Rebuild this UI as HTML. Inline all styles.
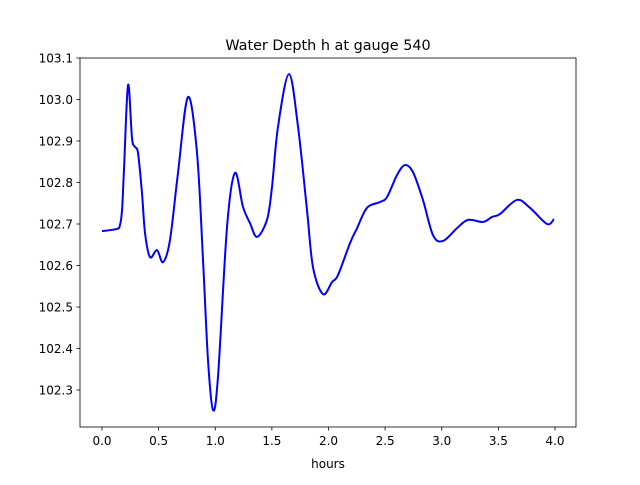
<!DOCTYPE html>
<html><head><meta charset="utf-8"><style>
body{margin:0;background:#fff}
svg text{font-family:"DejaVu Sans","Liberation Sans",sans-serif;fill:#000}
</style></head><body>
<svg width="640" height="480" xmlns="http://www.w3.org/2000/svg">
<rect width="640" height="480" fill="#fff"/>
<text x="328" y="50" font-size="14.4" text-anchor="middle">Water Depth h at gauge 540</text>
<g id="plot"></g>
<rect x="80" y="58" width="496" height="369" fill="none" stroke="#000" stroke-width="0.8"/>
<text x="328" y="468" font-size="12" text-anchor="middle">hours</text>
</svg>
<script>
const times=[0,0.132,0.159,0.177,0.194,0.23,0.265,0.291,0.318,0.353,0.38,0.424,0.486,0.539,0.6,0.671,0.759,0.839,0.892,0.936,0.98,1.024,1.104,1.174,1.245,1.307,1.369,1.457,1.501,1.554,1.651,1.731,1.81,1.863,1.951,2.031,2.084,2.19,2.252,2.34,2.455,2.517,2.605,2.675,2.746,2.834,2.923,3.011,3.135,3.232,3.364,3.444,3.514,3.664,3.779,3.929,3.991];
const depths=[102.683,102.688,102.698,102.734,102.83,103.035,102.907,102.886,102.871,102.775,102.678,102.62,102.637,102.608,102.661,102.823,103.006,102.871,102.613,102.372,102.252,102.331,102.693,102.823,102.741,102.702,102.669,102.71,102.789,102.934,103.061,102.934,102.734,102.596,102.531,102.56,102.577,102.654,102.69,102.739,102.753,102.765,102.818,102.842,102.825,102.758,102.673,102.659,102.69,102.71,102.705,102.717,102.724,102.758,102.739,102.7,102.712];
const xTicks=[0,0.5,1,1.5,2,2.5,3,3.5,4];
const yTicks=[102.3,102.4,102.5,102.6,102.7,102.8,102.9,103.0,103.1];
const ns="http://www.w3.org/2000/svg";
const X=t=>102+t*113.25;
const Y=v=>58+(103.1-v)*415;
const g=document.getElementById('plot');
function mk(tag,a){const e=document.createElementNS(ns,tag);for(const k in a)e.setAttribute(k,a[k]);g.appendChild(e);return e;}
xTicks.forEach(t=>{
  const l=mk('line',{x1:X(t),x2:X(t),y1:427,y2:430.5,stroke:'#000','stroke-width':0.8});
  
  
  const s=mk('text',{x:X(t),y:445,'font-size':12,'text-anchor':'middle'});
  s.textContent=t.toFixed(1);
  
  
});
yTicks.forEach(v=>{
  const l=mk('line',{x1:76.5,x2:80,y1:Y(v),y2:Y(v),stroke:'#000','stroke-width':0.8});
  
  
  const s=mk('text',{x:73,y:Y(v)+4.5,'font-size':12,'text-anchor':'end'});
  s.textContent=v.toFixed(1);
  
  
});
const P=times.map((t,i)=>[X(t),Y(depths[i])]);
let d='M'+P[0][0]+','+P[0][1];
for(let i=0;i<P.length-1;i++){
  const p0=P[Math.max(0,i-1)],p1=P[i],p2=P[i+1],p3=P[Math.min(P.length-1,i+2)];
  const c1=[p1[0]+(p2[0]-p0[0])/6,p1[1]+(p2[1]-p0[1])/6];
  const c2=[p2[0]-(p3[0]-p1[0])/6,p2[1]-(p3[1]-p1[1])/6];
  d+=' C'+c1[0].toFixed(2)+','+c1[1].toFixed(2)+' '+c2[0].toFixed(2)+','+c2[1].toFixed(2)+' '+p2[0].toFixed(2)+','+p2[1].toFixed(2);
}
const path=mk('path',{d:d,fill:'none',stroke:'#0000ff','stroke-width':2,'stroke-linejoin':'round'});


</script>
</body></html>
